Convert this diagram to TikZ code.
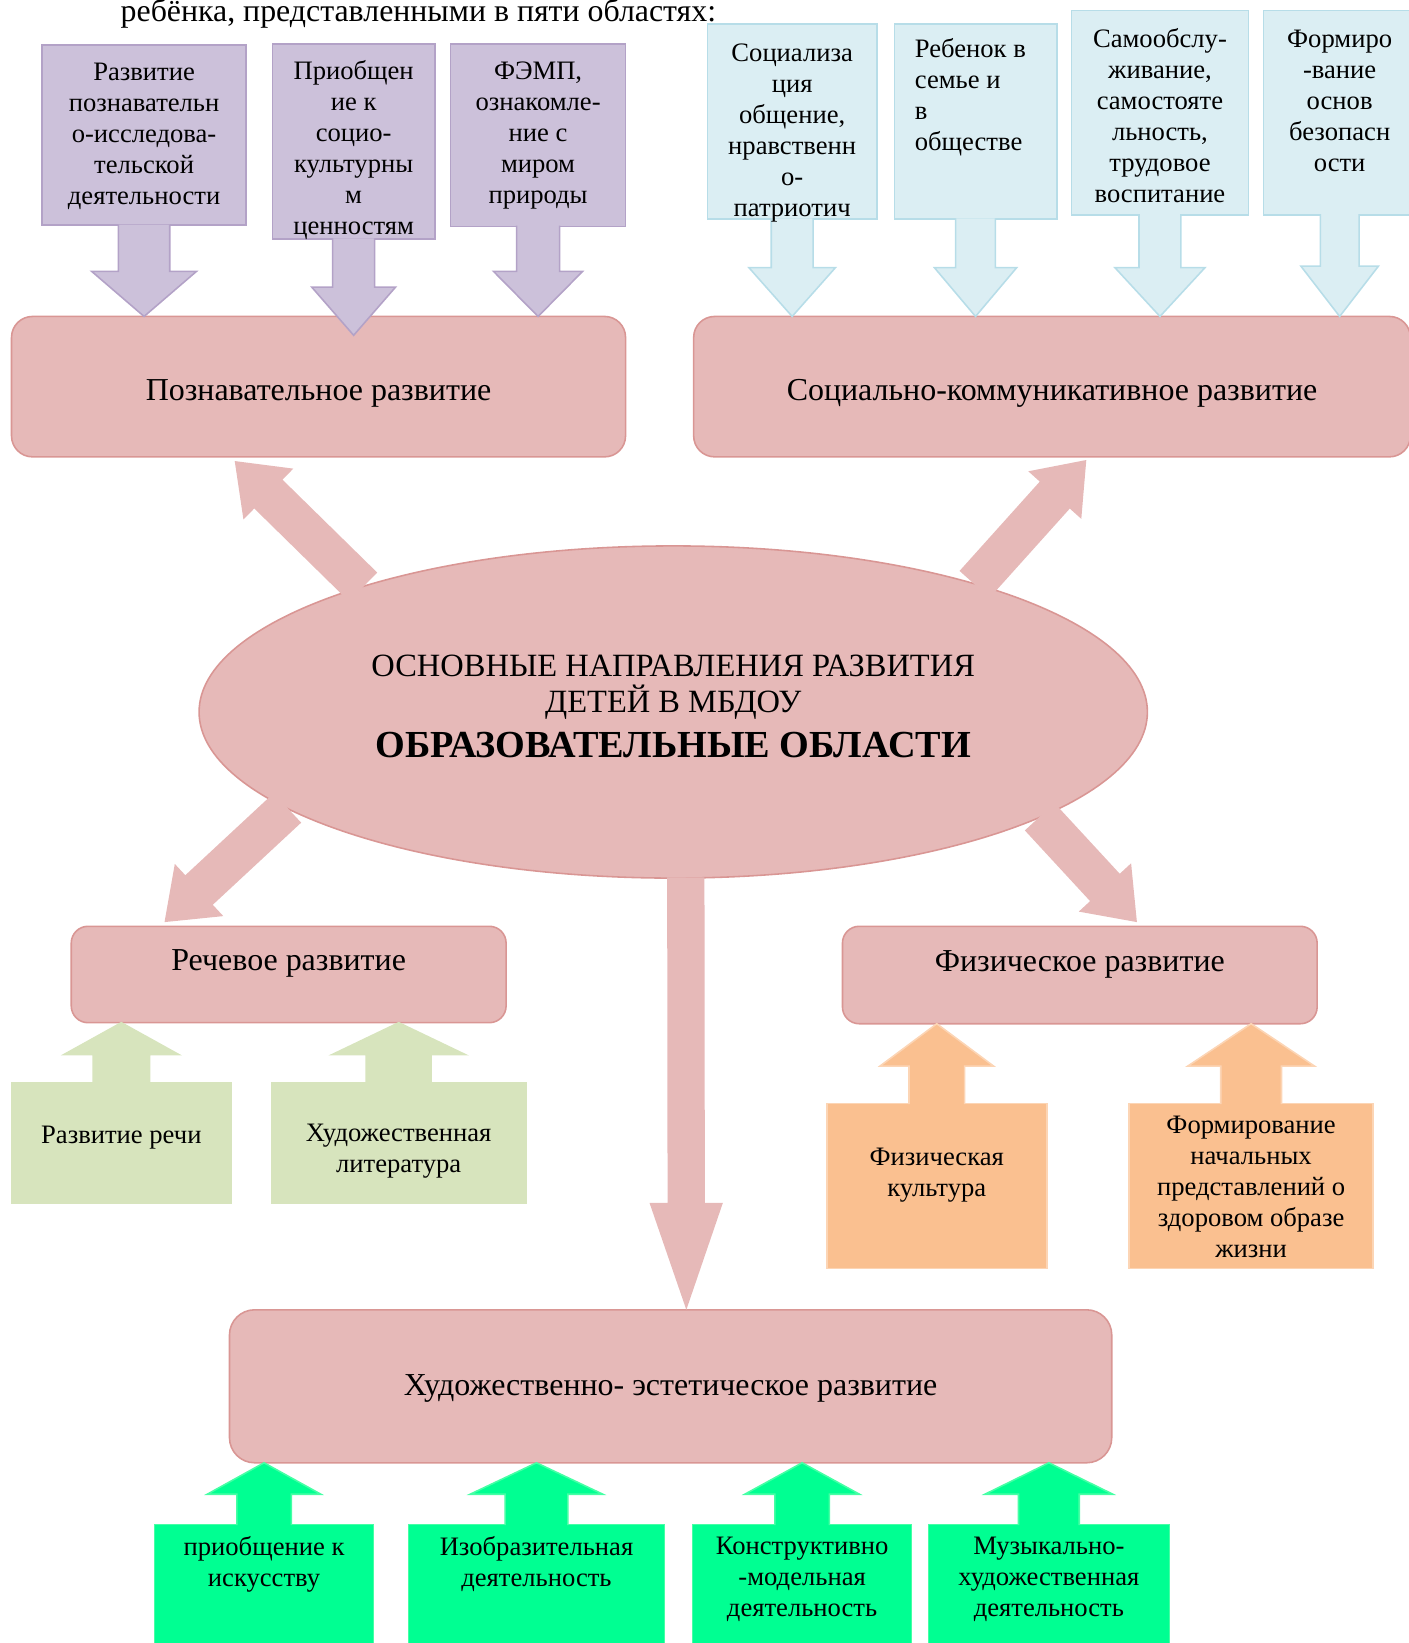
\documentclass[tikz,border=0pt]{standalone}
\usepackage{fontspec}
\setmainfont{Liberation Serif}
\usetikzlibrary{calc,positioning,shapes.geometric}
\definecolor{lilac}{RGB}{204,193,218}
\definecolor{lilacline}{RGB}{179,162,199}
\definecolor{skyfill}{RGB}{219,238,243}
\definecolor{skyline}{RGB}{183,221,232}
\definecolor{rose}{RGB}{230,185,184}
\definecolor{roseline}{RGB}{217,150,148}
\definecolor{olive}{RGB}{215,228,189}
\definecolor{peach}{RGB}{250,192,144}
\definecolor{peachline}{RGB}{252,213,181}
\definecolor{mint}{RGB}{0,255,146}
\definecolor{mintline}{RGB}{70,255,165}
\begin{document}
\begin{tikzpicture}
            [x=1pt,y=-1pt,
             plainbox/.style ={inner sep=0pt,outer sep=0pt,line width=1.5pt},
             lilacbox/.style ={plainbox,draw=lilacline,fill=lilac},
             skybox/.style ={plainbox,draw=skyline,fill=skyfill},
             olivebox/.style ={plainbox,draw=olive,fill=olive},
             peachbox/.style ={plainbox,draw=peachline,fill=peach},
             mintbox/.style ={plainbox,draw=mintline,fill=mint},
             areabox/.style ={plainbox,draw=roseline,fill=rose,rounded corners=#1,
                              font=\fontsize{30.5}{36}\selectfont},
             txt/.style ={align=center,inner sep=0pt,font=\fontsize{25.4}{29.6}\selectfont},
             barrow/.style n args={3}{line width=1.5pt,line join=miter,to path={
                 ($(\tikztotarget)!#3!(\tikztostart)$) coordinate (hb)
                 ($(\tikztostart)!-0.6pt!(\tikztotarget)$) coordinate (ta)
                 ($(ta)!#1!90:(hb)$) -- ($(hb)!#1!-90:(ta)$) -- ($(hb)!#2!-90:(ta)$)
                 -- (\tikztotarget) -- ($(hb)!#2!90:(ta)$) -- ($(hb)!#1!90:(ta)$)
                 -- ($(ta)!#1!-90:(hb)$)}},
             bigarrow/.style ={fill=rose,barrow={19.25pt}{34pt}{45pt}}]
            \useasboundingbox (0,0) rectangle (1344,1568);
            \node[anchor=base west,inner sep=0pt,font=\fontsize{30.4}{36}\selectfont] (intro)
                at (115,20.5) {ребёнка, представленными в пяти областях:};
            % upper boxes
            \node[lilacbox,minimum width=195pt,minimum height=172pt] (p1) at (137.5,129) {};
            \node[lilacbox,minimum width=155pt,minimum height=186pt] (p2) at (337.5,135) {};
            \node[lilacbox,minimum width=167pt,minimum height=174pt] (p3) at (513.5,129) {};
            \node[skybox,minimum width=162pt,minimum height=186pt] (b1) at (756,116) {};
            \node[skybox,minimum width=155pt,minimum height=186pt] (b2) at (931,116) {};
            \node[skybox,minimum width=169pt,minimum height=195pt] (b3) at (1107,107.5) {};
            \node[skybox,minimum width=145pt,minimum height=195pt] (b4) at (1278.5,107.5) {};
            \node[areabox=20pt,minimum width=586pt,text height=80pt,text depth=54pt] (pozn)
                at (304,369) {Познавательное развитие};
            \node[areabox=20pt,minimum width=684pt,text height=80pt,text depth=54pt] (soc)
                at (1004,369) {Социально-коммуникативное развитие};
            \draw[lilacline,fill=lilac,barrow={24.5pt}{50pt}{43pt}] (p1.south) to (p1.south |- pozn.north);
            \draw[lilacline,fill=lilac,barrow={20pt}{40pt}{46pt}] (p2.south) to ([yshift=-18pt]p2.south |- pozn.north);
            \draw[lilacline,fill=lilac,barrow={20.5pt}{42.5pt}{43pt}] (p3.south) to (p3.south |- pozn.north);
            \draw[skyline,fill=skyfill,barrow={20pt}{41.3pt}{46.6pt}] (b1.south) to (b1.south |- soc.north);
            \draw[skyline,fill=skyfill,barrow={19pt}{39.3pt}{46.6pt}] (b2.south) to (b2.south |- soc.north);
            \draw[skyline,fill=skyfill,barrow={20pt}{43pt}{46.6pt}] (b3.south) to (b3.south |- soc.north);
            \draw[skyline,fill=skyfill,barrow={18.5pt}{37pt}{48pt}] (b4.south) to (b4.south |- soc.north);
            \node[txt] (p1t) at ([yshift=-1pt]p1.center)
                {Развитие\\познавательн\\о-исследова-\\тельской\\деятельности};
            \node[txt] (p2t) at ([yshift=-8.5pt]p2.center)
                {Приобщен\\ие к\\социо-\\культурны\\м\\ценностям};
            \node[txt] (p3t) at ([yshift=-0.5pt]p3.center)
                {ФЭМП,\\ознакомле-\\ние с\\миром\\природы};
            \node[txt] (b1t) at ([yshift=-11pt]b1.center)
                {Социализа\\ция\\общение,\\нравственн\\о-\\патриотич};
            \node[txt,align=left,anchor=west] (b2t) at ([xshift=19.4pt,yshift=22.75pt]b2.west)
                {Ребенок в\\семье и\\в\\обществе};
            \node[txt] (b3t) at ([yshift=-2.5pt]b3.center)
                {Самообслу-\\живание,\\самостояте\\льность,\\трудовое\\воспитание};
            \node[txt] (b4t) at ([yshift=11.5pt]b4.center)
                {Формиро\\-вание\\основ\\безопасн\\ости};
            % centre
            \node[ellipse,draw=roseline,fill=rose,line width=1.5pt,inner sep=0pt,outer sep=0pt,
                  minimum width=905pt,minimum height=317pt] (ell) at (642.5,679.5) {};
            \node[areabox=16pt,minimum width=415pt,text height=42pt,text depth=50pt] (rech)
                at (275.5,930) {Речевое развитие};
            \node[areabox=16pt,minimum width=453pt,text height=43pt,text depth=50pt] (fiz)
                at (1030.5,930.5) {Физическое развитие};
            \node[areabox=24pt,minimum width=842pt,text height=82pt,text depth=64pt] (hud)
                at (640,1323) {Художественно- эстетическое развитие};
            \fill[bigarrow] (ell.158) to ([xshift=-80pt,yshift=-4pt]pozn.south);
            \fill[bigarrow] (ell.23.5) to ([xshift=32.7pt,yshift=-3pt]soc.south);
            \fill[bigarrow] (ell.194.4) to ([xshift=-118.5pt,yshift=4pt]rech.north);
            \fill[bigarrow] (ell.344) to ([xshift=54.5pt,yshift=4pt]fiz.north);
            \fill[fill=rose,barrow={17.8pt}{35pt}{102pt}] ([xshift=12pt]ell.south) to ([xshift=15pt]hud.north);
            \node[align=center,inner sep=0pt,font=\fontsize{31}{35}\selectfont] (ellt)
                at ([yshift=5.5pt]ell.center)
                {ОСНОВНЫЕ НАПРАВЛЕНИЯ РАЗВИТИЯ\\ДЕТЕЙ В МБДОУ\\[7.8pt]
                 {\bfseries\fontsize{36.5}{40}\selectfont ОБРАЗОВАТЕЛЬНЫЕ ОБЛАСТИ}};
            % lower boxes
            \node[olivebox,minimum width=209.6pt,minimum height=115.5pt] (g1) at (115.8,1091) {};
            \node[olivebox,minimum width=243pt,minimum height=115.5pt] (g2) at (380.5,1091) {};
            \node[peachbox,minimum width=210pt,minimum height=157.5pt] (o1) at (894,1131.8) {};
            \node[peachbox,minimum width=233pt,minimum height=157.5pt] (o2) at (1194,1131.8) {};
            \node[mintbox,minimum width=209pt,minimum height=125pt] (s1) at (252,1517.5) {};
            \node[mintbox,minimum width=244pt,minimum height=125pt] (s2) at (512,1517.5) {};
            \node[mintbox,minimum width=209pt,minimum height=125pt] (s3) at (765.5,1517.5) {};
            \node[mintbox,minimum width=230pt,minimum height=125pt] (s4) at (1001,1517.5) {};
            \draw[olive,fill=olive,barrow={27pt}{55pt}{30.5pt}] (g1.north) to (g1.north |- rech.south);
            \draw[olive,fill=olive,barrow={31pt}{63.7pt}{30.5pt}] (g2.north) to (g2.north |- rech.south);
            \draw[peachline,fill=peach,barrow={26.5pt}{54.2pt}{40.4pt}] (o1.north) to (o1.north |- fiz.south);
            \draw[peachline,fill=peach,barrow={29pt}{60.5pt}{40.4pt}] (o2.north) to (o2.north |- fiz.south);
            \draw[mintline,fill=mint,barrow={26pt}{54.2pt}{30pt}] (s1.north) to (s1.north |- hud.south);
            \draw[mintline,fill=mint,barrow={30pt}{63.3pt}{30pt}] (s2.north) to (s2.north |- hud.south);
            \draw[mintline,fill=mint,barrow={26pt}{54.7pt}{30pt}] (s3.north) to (s3.north |- hud.south);
            \draw[mintline,fill=mint,barrow={29pt}{61pt}{30pt}] (s4.north) to (s4.north |- hud.south);
            \node[txt] (g1t) at ([yshift=5pt]g1.center) {Развитие речи};
            \node[txt] (g2t) at ([yshift=-8pt]g2.center) {Художественная\\литература};
            \node[txt] (o1t) at ([yshift=10pt]o1.center) {Физическая\\культура};
            \node[txt] (o2t) at ([yshift=-1pt]o2.center)
                {Формирование\\начальных\\представлений о\\здоровом образе\\жизни};
            \node[txt] (s1t) at ([yshift=24.5pt]s1.center) {приобщение к\\искусству};
            \node[txt] (s2t) at ([yshift=24.5pt]s2.center) {Изобразительная\\деятельность};
            \node[txt] (s3t) at ([yshift=10pt]s3.center) {Конструктивно\\-модельная\\деятельность};
            \node[txt] (s4t) at ([yshift=10pt]s4.center) {Музыкально-\\художественная\\деятельность};
        \end{tikzpicture}
\end{document}
